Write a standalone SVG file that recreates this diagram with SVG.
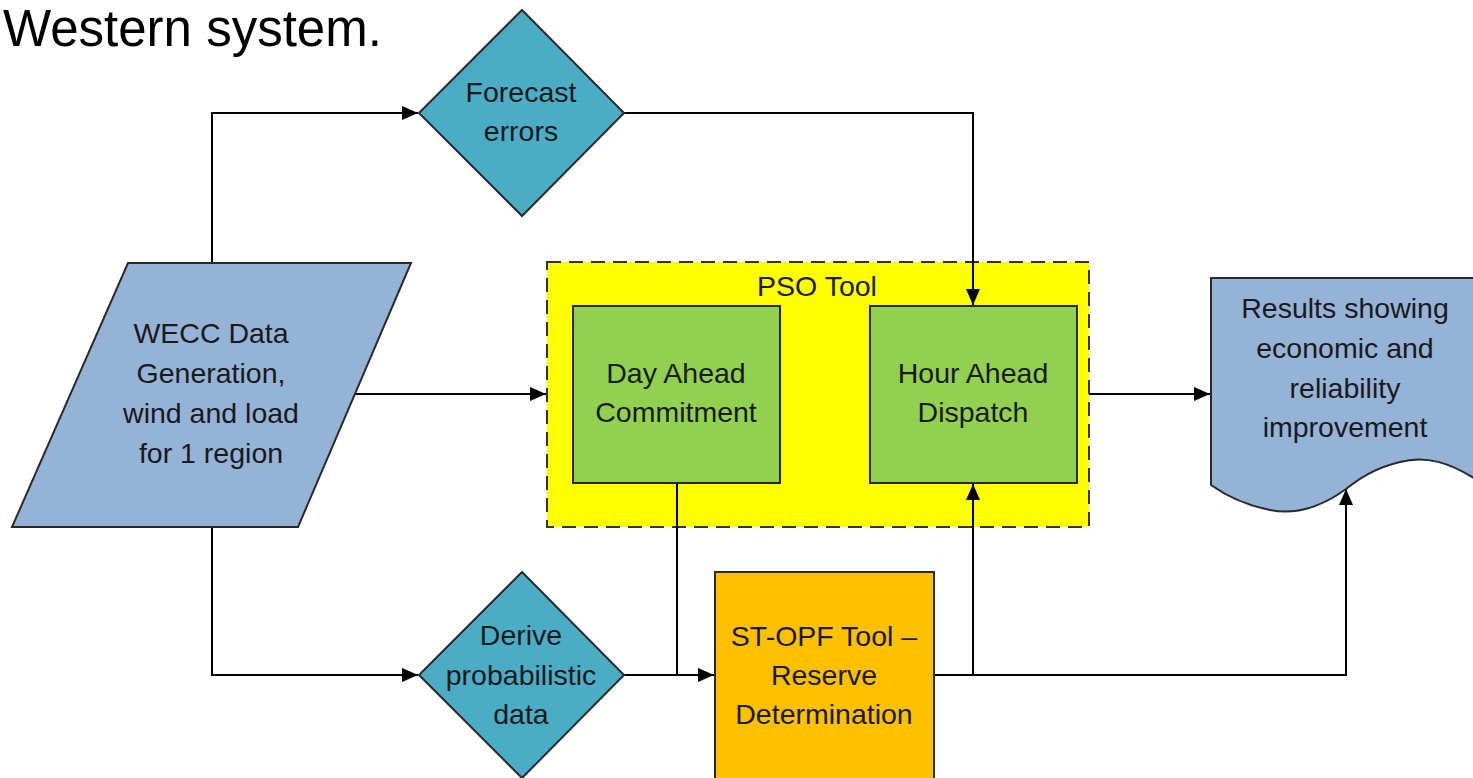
<svg xmlns="http://www.w3.org/2000/svg" width="1473" height="778" viewBox="0 0 1473 778">
<style>
text{font-family:"Liberation Sans",Arial,sans-serif;fill:#1a1a1a;text-anchor:middle;font-size:28.5px}
.title{font-size:51px;fill:#000;text-anchor:start}
.shape{stroke:#2a2a2a;stroke-width:2}
.dia{fill:#4BACC6}
.blue{fill:#95B3D7}
.green{fill:#92D050}
.conn{fill:none;stroke:#000;stroke-width:2}
</style>
<defs>
<marker id="ah" markerWidth="16" markerHeight="14" refX="16" refY="7" orient="auto" markerUnits="userSpaceOnUse">
<path d="M0,0 L16,7 L0,14 Z" fill="#000"/>
</marker>
</defs>
<rect width="1473" height="778" fill="#fff"/>
<text class="title" x="3" y="46">Western system.</text>

<g id="pso">
<rect x="547" y="262" width="542" height="265" fill="#FFFF00" stroke="#333" stroke-width="2" stroke-dasharray="14,8"/>
<text x="817" y="296">PSO Tool</text>
</g>

<g id="connectors">
<path class="conn" d="M212,263 L212,113 L418,113" marker-end="url(#ah)"/>
<path class="conn" d="M624,113 L973,113 L973,305" marker-end="url(#ah)"/>
<path class="conn" d="M353,394 L546,394" marker-end="url(#ah)"/>
<path class="conn" d="M212,527 L212,675 L418,675" marker-end="url(#ah)"/>
<path class="conn" d="M624,675 L714,675" marker-end="url(#ah)"/>
<path class="conn" d="M677,483 L677,675"/>
<path class="conn" d="M934,675 L1346,675 L1346,489" marker-end="url(#ah)"/>
<path class="conn" d="M973,675 L973,484" marker-end="url(#ah)"/>
<path class="conn" d="M1089,394 L1210,394" marker-end="url(#ah)"/>
</g>

<g id="forecast">
<polygon class="shape dia" points="522,10 624,113 522,216 419,113"/>
<text x="521" y="102">Forecast</text>
<text x="521" y="141">errors</text>
</g>

<g id="wecc">
<polygon class="shape blue" points="128,263 411,263 298,527 12,527"/>
<text x="211" y="343">WECC Data</text>
<text x="211" y="383">Generation,</text>
<text x="211" y="423">wind and load</text>
<text x="211" y="463">for 1 region</text>
</g>

<g id="day-ahead">
<rect class="shape green" x="573" y="306" width="207" height="177"/>
<text x="676" y="383">Day Ahead</text>
<text x="676" y="422">Commitment</text>
</g>

<g id="hour-ahead">
<rect class="shape green" x="870" y="306" width="207" height="177"/>
<text x="973" y="383">Hour Ahead</text>
<text x="973" y="422">Dispatch</text>
</g>

<g id="results">
<path class="shape blue" d="M1211,278 L1480,278 L1480,482 C1450,462 1425,455 1400,462 C1375,468 1360,478 1346,489 C1320,508 1295,515 1270,510 C1245,505 1225,495 1211,485 Z"/>
<text x="1345" y="318">Results showing</text>
<text x="1345" y="358">economic and</text>
<text x="1345" y="398">reliability</text>
<text x="1345" y="437">improvement</text>
</g>

<g id="derive">
<polygon class="shape dia" points="522,572 624,675 522,778 419,675"/>
<text x="521" y="645">Derive</text>
<text x="521" y="685">probabilistic</text>
<text x="521" y="724">data</text>
</g>

<g id="stopf">
<rect class="shape" x="715" y="572" width="219" height="220" fill="#FFC000"/>
<text x="824" y="646">ST-OPF Tool –</text>
<text x="824" y="685">Reserve</text>
<text x="824" y="724">Determination</text>
</g>
</svg>
